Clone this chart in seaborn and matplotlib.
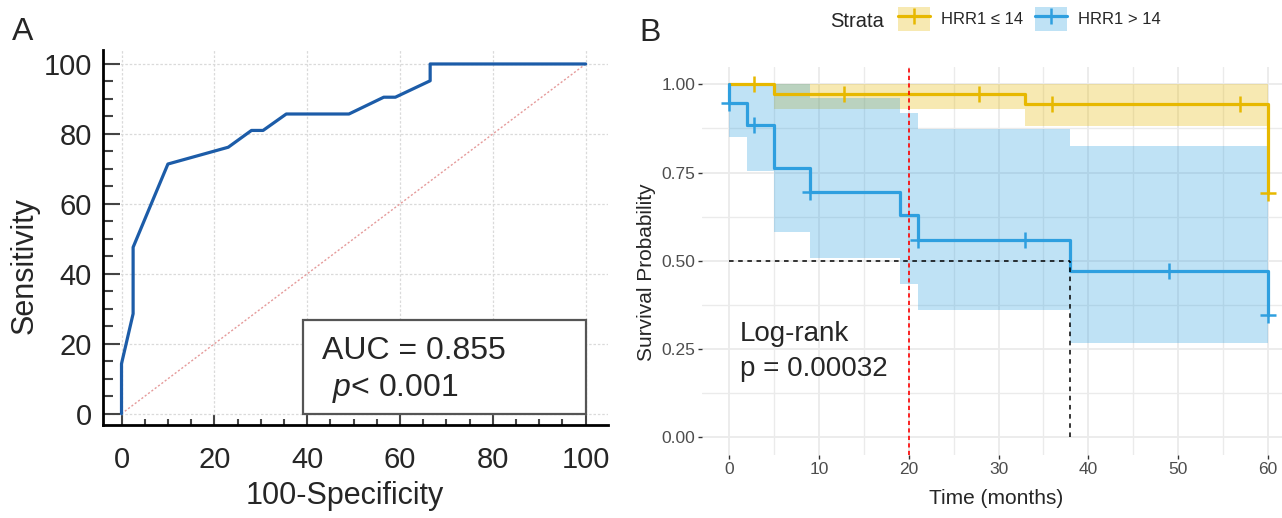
import numpy as np
import seaborn as sns
import matplotlib.pyplot as plt
from matplotlib.lines import Line2D
from matplotlib.patches import Patch, Rectangle
from matplotlib.ticker import MultipleLocator, FormatStrFormatter

# ---- panel A: ROC curve (values in %) ----
roc_fpr = [0, 0, 2.5, 2.5, 7, 10, 23, 28, 30.5, 35.5, 49, 56.5, 59, 66.5, 66.5, 100]
roc_tpr = [0, 14.3, 28.6, 47.6, 61.9, 71.4, 76.2, 81.0, 81.0, 85.7, 85.7, 90.5, 90.5, 95.2, 100, 100]
chance_line = [0, 100]
auc_label = "AUC = 0.855"
auc_p_label = r"$p$< 0.001"

# ---- panel B: Kaplan-Meier by HRR1 ----
strata_labels = ["HRR1 \u2264 14", "HRR1 > 14"]
strata_colors = ["#E7B800", "#2E9FDF"]

low_time = [0, 5, 33, 60]
low_surv = [1.0, 0.972, 0.944, 0.692]
low_ci_lower = [1.0, 0.929, 0.883, 0.692]
low_ci_upper = [1.0, 1.0, 1.0, 1.0]
low_cens_time = [2.75, 12.8, 27.8, 35.9, 56.9, 60]
low_cens_surv = [1.0, 0.972, 0.972, 0.944, 0.944, 0.692]

high_time = [0, 0, 2, 5, 9, 19, 21, 38, 60]
high_surv = [1.0, 0.947, 0.885, 0.762, 0.696, 0.630, 0.559, 0.470, 0.346]
high_ci_lower = [1.0, 0.852, 0.753, 0.583, 0.508, 0.434, 0.362, 0.268, 0.268]
high_ci_upper = [1.0, 1.0, 1.0, 1.0, 0.96, 0.918, 0.873, 0.825, 0.825]
high_cens_time = [0, 2.75, 9, 21, 33, 49, 60]
high_cens_surv = [0.947, 0.885, 0.696, 0.559, 0.559, 0.470, 0.346]

cutoff_month = 20
logrank_p = "0.00032"

sns.set_style("white")
plt.rcParams['font.family'] = ['Liberation Sans', 'DejaVu Sans']
plt.rcParams['mathtext.fontset'] = 'custom'
plt.rcParams['mathtext.rm'] = 'Liberation Sans'
plt.rcParams['mathtext.it'] = 'Liberation Sans:italic'

fig = plt.figure(figsize=(12.82, 5.18), dpi=100)
axA = fig.add_axes([0.0803, 0.1786, 0.3939, 0.7249])
axB = fig.add_axes([0.5476, 0.1216, 0.4524, 0.7498])

# ---------------- panel A ----------------
sns.lineplot(x=chance_line, y=chance_line, color="#e59a9a", lw=1.0,
             linestyle=(0, (1.5, 1.5)), ax=axA)
sns.lineplot(x=roc_fpr, y=roc_tpr, estimator=None, sort=False,
             color="#1c5ca8", lw=2.3, ax=axA)

axA.set_xlim(-4, 104.8)
axA.set_ylim(-3.35, 104)
for axis in (axA.xaxis, axA.yaxis):
    axis.set_major_locator(MultipleLocator(20))
    axis.set_minor_locator(MultipleLocator(5))
axA.grid(True, which='major', color='#dadada', lw=0.9, ls=(0, (2, 1.5)))
axA.set_axisbelow(True)
for side in ['top', 'right']:
    axA.spines[side].set_visible(False)
for side in ['left', 'bottom']:
    axA.spines[side].set_linewidth(2.0)
    axA.spines[side].set_color('black')
axA.tick_params(axis='y', which='major', direction='in', left=True, length=12,
                width=1.5, pad=8, labelsize=21, color='#444444')
axA.tick_params(axis='y', which='minor', direction='in', left=True, length=7,
                width=1.5, color='#444444')
axA.tick_params(axis='x', which='major', direction='in', bottom=True, length=8,
                width=1.5, pad=15, labelsize=21, color='#444444')
axA.tick_params(axis='x', which='minor', direction='in', bottom=True, length=4.5,
                width=1.5, color='#444444')

axA.add_patch(Rectangle((39, 0), 61, 26.7, facecolor='white', edgecolor='#555555',
                        lw=1.6, zorder=3))
axA.text(43.2, 15.8, auc_label, fontsize=23, va='baseline', zorder=4)
axA.text(45.3, 5.2, auc_p_label, fontsize=23, va='baseline', zorder=4)

axA.set_xlabel('100-Specificity', fontsize=22)
axA.xaxis.set_label_coords(0.478, -0.147)
axA.set_ylabel('Sensitivity', fontsize=22)
axA.yaxis.set_label_coords(-0.125, 0.425)

# ---------------- panel B ----------------
axB.fill_between(low_time, low_ci_lower, low_ci_upper, step='post',
                 color=strata_colors[0], alpha=0.3, lw=0)
axB.fill_between(high_time, high_ci_lower, high_ci_upper, step='post',
                 color=strata_colors[1], alpha=0.3, lw=0)

sns.lineplot(x=low_time, y=low_surv, estimator=None, sort=False, drawstyle='steps-post',
             color=strata_colors[0], lw=2.3, ax=axB)
sns.lineplot(x=high_time, y=high_surv, estimator=None, sort=False, drawstyle='steps-post',
             color=strata_colors[1], lw=2.3, ax=axB)
sns.scatterplot(x=low_cens_time, y=low_cens_surv, marker='+', s=140, linewidth=1.8,
                color=strata_colors[0], ax=axB, zorder=4)
sns.scatterplot(x=high_cens_time, y=high_cens_surv, marker='+', s=140, linewidth=1.8,
                color=strata_colors[1], ax=axB, zorder=4)

# median survival line for the high group
surv_arr = np.array(high_surv)
med_t = np.array(high_time)[np.argmax(surv_arr <= 0.5)]
axB.plot([0, med_t], [0.5, 0.5], color='black', lw=1.1, ls=(0, (3, 3)), zorder=5)
axB.plot([med_t, med_t], [0, 0.5], color='black', lw=1.1, ls=(0, (3, 3)), zorder=5)
axB.axvline(cutoff_month, color='red', lw=1.2, ls=(0, (2.5, 2)), zorder=5)

axB.text(1.2, 0.272, "Log-rank", fontsize=20, va='baseline')
axB.text(1.2, 0.173, "p = " + logrank_p, fontsize=20, va='baseline')

axB.set_xlim(-3, 61.55)
axB.set_ylim(-0.05, 1.05)
axB.set_xticks(range(0, 61, 10))
axB.xaxis.set_minor_locator(MultipleLocator(5))
axB.set_yticks([0, 0.25, 0.5, 0.75, 1.0])
axB.yaxis.set_minor_locator(MultipleLocator(0.125))
axB.yaxis.set_major_formatter(FormatStrFormatter('%.2f'))
axB.grid(True, which='major', color='#EBEBEB', lw=1.3)
axB.grid(True, which='minor', color='#EBEBEB', lw=1.0)
axB.set_axisbelow(True)
for side in axB.spines:
    axB.spines[side].set_visible(False)
axB.tick_params(which='major', left=True, bottom=True, length=3, width=1,
                color='#333333', labelcolor='#4D4D4D', labelsize=12.5, pad=2)
axB.tick_params(which='minor', length=0)

axB.set_xlabel('Time (months)', fontsize=15)
axB.xaxis.set_label_coords(0.507, -0.0875)
axB.set_ylabel('Survival Probability', fontsize=15)
axB.yaxis.set_label_coords(-0.079, 0.471)

# legend on top
handles = [(Patch(facecolor=c, alpha=0.3, lw=0),
            Line2D([], [], color=c, lw=2.3, marker='+', ms=11, mew=1.8))
           for c in strata_colors]
fig.text(830 / 1282, 1 - 26.7 / 518, 'Strata', fontsize=14.5, va='baseline')
axB.legend(handles, strata_labels, loc='center left',
           bbox_to_anchor=(898 / 1282, 1 - 19 / 518), bbox_transform=fig.transFigure,
           ncol=2, frameon=False, borderpad=0, borderaxespad=0, handlelength=1.9,
           handleheight=1.8, handletextpad=0.7, columnspacing=0.7, fontsize=12)

fig.text(0.0094, 1 - 40 / 518, 'A', fontsize=23, va='baseline')
fig.text(639 / 1282, 1 - 41 / 518, 'B', fontsize=23, va='baseline')

fig.savefig('out.png', dpi=100)
